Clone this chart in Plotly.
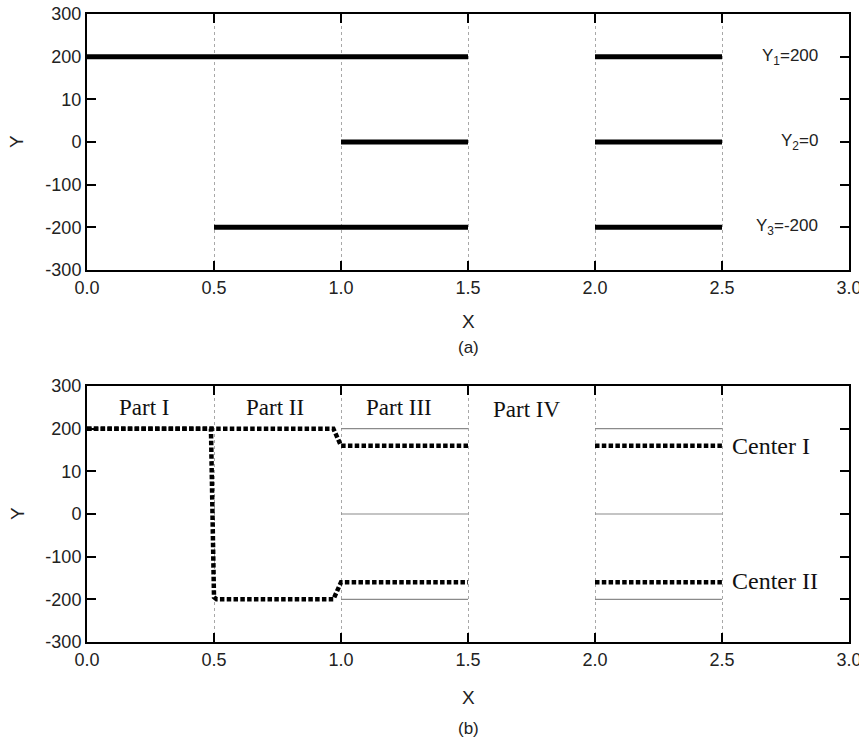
import plotly.graph_objects as go

# ---------------- data ----------------
# panel (a): thick solid segments (None = gap)
a_y1_x = [0.0, 1.5, None, 2.0, 2.5]
a_y1_y = [200, 200, None, 200, 200]
a_y2_x = [1.0, 1.5, None, 2.0, 2.5]
a_y2_y = [0, 0, None, 0, 0]
a_y3_x = [0.5, 1.5, None, 2.0, 2.5]
a_y3_y = [-200, -200, None, -200, -200]

a_labels = ["Y<sub>1</sub>=200", "Y<sub>2</sub>=0", "Y<sub>3</sub>=-200"]
a_label_y = [200, 0, -200]

# panel (b): reference levels (thin gray)
b_ref_x = [1.0, 1.5, None, 2.0, 2.5]
b_ref_levels = [200, 0, -200]

# panel (b): centers (dashed)
c1_x = [0.0, 0.97, 1.0, 1.5, None, 2.0, 2.5]
c1_y = [200, 200, 160, 160, None, 160, 160]
c2_x = [0.0, 0.488, 0.50, 0.51, 0.97, 1.0, 1.5, None, 2.0, 2.5]
c2_y = [200, 200, -195, -200, -200, -160, -160, None, -160, -160]

part_labels = ["Part I", "Part II", "Part III", "Part IV"]
part_x = [0.12, 0.62, 1.09, 1.59]
part_y = [250, 250, 250, 246]

center_labels = ["Center I", "Center II"]
center_label_y = [160, -157]

x_ticks = [0.0, 0.5, 1.0, 1.5, 2.0, 2.5, 3.0]
x_ticktext = ["0.0", "0.5", "1.0", "1.5", "2.0", "2.5", "3.0"]
y_ticks = [-300, -200, -100, 0, 100, 200, 300]
y_ticktext = ["-300", "-200", "-100", "0", "10", "200", "300"]

# ---------------- figure ----------------
SANS = "Liberation Sans, Arial, sans-serif"
SERIF = "Liberation Serif, Times New Roman, serif"

fig = go.Figure()

for xs, ys in [(a_y1_x, a_y1_y), (a_y2_x, a_y2_y), (a_y3_x, a_y3_y)]:
    fig.add_trace(go.Scatter(x=xs, y=ys, mode="lines", xaxis="x", yaxis="y",
                             line=dict(color="black", width=5), showlegend=False,
                             hoverinfo="skip"))

for lev in b_ref_levels:
    fig.add_trace(go.Scatter(x=b_ref_x, y=[lev if v is not None else None for v in b_ref_x],
                             mode="lines", xaxis="x2", yaxis="y2",
                             line=dict(color="#8a8a8a", width=1.2), showlegend=False,
                             hoverinfo="skip"))

for xs, ys in [(c1_x, c1_y), (c2_x, c2_y)]:
    fig.add_trace(go.Scatter(x=xs, y=ys, mode="lines", xaxis="x2", yaxis="y2",
                             line=dict(color="black", width=4.5, dash="4.5px,2.3px"),
                             showlegend=False, hoverinfo="skip"))

axis_common = dict(
    range=[0, 3], tickvals=x_ticks, ticktext=x_ticktext,
    showline=True, linecolor="black", linewidth=2, mirror="ticks",
    ticks="inside", ticklen=9, tickwidth=2, tickcolor="black",
    showgrid=True, gridcolor="#a8a8a8", gridwidth=1, griddash="dot",
    zeroline=False, tickfont=dict(family=SANS, size=18, color="#222"),
    ticklabeloverflow="allow",
)
yaxis_common = dict(
    range=[-300, 300], tickvals=y_ticks, ticktext=y_ticktext,
    showline=True, linecolor="black", linewidth=2, mirror="ticks",
    ticks="inside", ticklen=9, tickwidth=2, tickcolor="black",
    showgrid=False, zeroline=False, tickfont=dict(family=SANS, size=18, color="#222"),
    ticklabeloverflow="allow",
)

top_dom = [0.5924, 1.0]
bot_dom = [0.0, 0.4076]

fig.update_layout(
    width=859, height=738,
    margin=dict(l=87, r=10, t=14, b=96, autoexpand=False),
    paper_bgcolor="white", plot_bgcolor="white",
    xaxis=dict(axis_common, domain=[0, 1], anchor="y"),
    yaxis=dict(yaxis_common, domain=top_dom, anchor="x"),
    xaxis2=dict(axis_common, domain=[0, 1], anchor="y2"),
    yaxis2=dict(yaxis_common, domain=bot_dom, anchor="x2"),
)

ann = []
for txt, yv in zip(a_labels, a_label_y):
    ann.append(dict(x=2.885, y=yv, xref="x", yref="y", text=txt, showarrow=False,
                    xanchor="right", yanchor="middle",
                    font=dict(family=SANS, size=17, color="#222")))
for txt, xv, yv in zip(part_labels, part_x, part_y):
    ann.append(dict(x=xv, y=yv, xref="x2", yref="y2", text=txt, showarrow=False,
                    xanchor="left", yanchor="middle",
                    font=dict(family=SERIF, size=23, color="#111")))
for txt, yv in zip(center_labels, center_label_y):
    ann.append(dict(x=2.53, y=yv, xref="x2", yref="y2", text=txt, showarrow=False,
                    xanchor="left", yanchor="middle",
                    font=dict(family=SERIF, size=24, color="#111")))

# axis titles and panel captions
for dom, cap, xs_shift, cap_shift in [(top_dom, "(a)", -52, -78), (bot_dom, "(b)", -55, -86)]:
    ann.append(dict(x=0.5, y=dom[0], xref="paper", yref="paper", text="X", showarrow=False,
                    xanchor="center", yanchor="middle", yshift=xs_shift,
                    font=dict(family=SANS, size=19, color="#222")))
    ann.append(dict(x=0.5, y=dom[0], xref="paper", yref="paper", text=cap, showarrow=False,
                    xanchor="center", yanchor="middle", yshift=cap_shift,
                    font=dict(family=SANS, size=17, color="#222")))
    ann.append(dict(x=0, y=(dom[0] + dom[1]) / 2, xref="paper", yref="paper", text="Y",
                    showarrow=False, xanchor="center", yanchor="middle", xshift=-70,
                    textangle=-90, font=dict(family=SANS, size=19, color="#222")))

fig.update_layout(annotations=ann)
fig.write_html("out.html", config={"displayModeBar": False},
               post_script="document.body.style.margin='0';document.body.style.overflow='hidden';")
